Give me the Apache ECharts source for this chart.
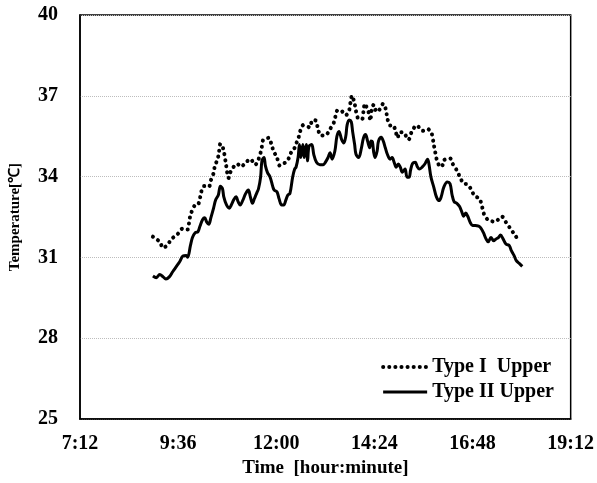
<!DOCTYPE html>
<html>
<head>
<meta charset="utf-8">
<script src="https://cdn.jsdelivr.net/npm/echarts@6/dist/echarts.min.js"></script>
<style>
  html, body { margin: 0; padding: 0; background: #fff; }
  #chart { width: 597px; height: 483px; }
</style>
</head>
<body>
<div id="chart"></div>
<script>
// Upper surface temperature over the day for two panel types
const seriesNames = ['Type I  Upper', 'Type II Upper'];

const typeITimes = ['8:59','9:09','9:14','9:20','9:27','9:35','9:43','9:50','9:52','9:54','10:00','10:05','10:08','10:09','10:14','10:21','10:24','10:28','10:30','10:34','10:36','10:38','10:42','10:46','10:48','10:50','10:52','10:57','11:03','11:08','11:14','11:22','11:29','11:34','11:37','11:39','11:41','11:49','11:53','11:56','12:01','12:05','12:08','12:14','12:19','12:23','12:27','12:29','12:32','12:35','12:40','12:49','12:53','12:58','13:01','13:05','13:12','13:19','13:25','13:29','13:34','13:42','13:47','13:49','13:51','13:55','13:57','14:01','14:06','14:08','14:10','14:13','14:16','14:18','14:20','14:23','14:27','14:31','14:37','14:41','14:43','14:47','14:51','14:55','14:58','15:01','15:06','15:14','15:19','15:26','15:35','15:42','15:48','15:51','15:53','15:55','15:59','16:03','16:06','16:15','16:19','16:25','16:30','16:35','16:40','16:46','16:51','16:58','17:02','17:05','17:11','17:21','17:31','17:37','17:43','17:50','17:56'];
const typeITemps = [31.77,31.58,31.35,31.46,31.70,31.86,32.08,32.04,32.28,32.56,32.92,32.95,33.19,33.35,33.65,33.62,33.86,34.13,34.41,34.65,34.92,35.22,35.05,34.50,34.15,33.95,34.13,34.35,34.47,34.36,34.49,34.65,34.44,34.65,34.89,35.13,35.37,35.44,35.19,34.95,34.71,34.41,34.47,34.53,34.71,34.97,35.07,35.22,35.37,35.68,35.92,35.83,36.10,36.08,35.80,35.53,35.53,35.77,36.04,36.44,36.47,36.28,36.47,36.77,37.01,36.71,36.43,36.14,36.14,36.43,36.71,36.55,36.35,36.08,36.47,36.67,36.41,36.47,36.71,36.47,36.16,35.90,35.92,35.70,35.44,35.65,35.65,35.37,35.68,35.90,35.70,35.77,35.60,35.20,34.95,34.68,34.41,34.37,34.61,34.68,34.47,34.23,33.96,33.74,33.72,33.53,33.28,33.19,32.88,32.60,32.39,32.33,32.52,32.31,32.09,31.84,31.61];

const typeIITimes = ['8:59','9:04','9:09','9:14','9:18','9:23','9:28','9:33','9:38','9:43','9:48','9:50','9:54','9:57','10:01','10:05','10:08','10:12','10:15','10:18','10:21','10:24','10:28','10:31','10:35','10:38','10:41','10:43','10:47','10:51','10:54','10:58','11:01','11:04','11:07','11:11','11:15','11:19','11:22','11:25','11:28','11:31','11:34','11:37','11:39','11:42','11:44','11:47','11:51','11:55','11:57','12:01','12:04','12:08','12:11','12:14','12:17','12:20','12:24','12:27','12:29','12:32','12:34','12:36','12:39','12:41','12:44','12:46','12:48','12:52','12:55','12:59','13:04','13:09','13:12','13:16','13:19','13:22','13:26','13:29','13:32','13:36','13:39','13:42','13:44','13:47','13:50','13:52','13:55','13:57','14:01','14:05','14:08','14:11','14:14','14:17','14:19','14:21','14:23','14:25','14:28','14:30','14:34','14:37','14:40','14:43','14:47','14:50','14:53','14:56','14:59','15:02','15:05','15:09','15:12','15:15','15:17','15:20','15:24','15:27','15:30','15:34','15:38','15:42','15:44','15:47','15:51','15:55','15:59','16:02','16:06','16:11','16:15','16:18','16:21','16:25','16:29','16:32','16:35','16:38','16:41','16:45','16:48','16:52','16:57','17:00','17:04','17:08','17:11','17:15','17:19','17:22','17:26','17:29','17:33','17:37','17:42','17:45','17:49','17:52','17:57','18:01'];
const typeIITemps = [30.31,30.25,30.37,30.28,30.20,30.28,30.47,30.65,30.83,31.05,31.07,31.01,31.44,31.74,31.92,31.95,32.16,32.41,32.47,32.31,32.23,32.47,32.83,33.13,33.32,33.64,33.56,33.25,32.95,32.83,32.95,33.16,33.25,33.07,32.95,33.13,33.37,33.50,33.25,33.01,33.19,33.37,33.56,33.98,34.59,34.71,34.41,34.16,33.98,33.62,33.50,33.44,33.19,32.95,32.95,33.13,33.32,33.37,33.98,34.28,34.35,34.71,35.19,34.71,35.19,34.71,35.19,34.59,35.13,35.19,34.83,34.53,34.44,34.44,34.53,34.71,34.89,34.65,34.95,35.50,35.68,35.37,35.25,35.50,35.92,36.10,36.04,35.68,35.19,34.83,34.71,35.07,35.44,35.56,35.32,35.07,35.32,35.30,34.90,34.71,34.95,35.32,35.46,35.32,35.07,34.83,34.65,34.71,34.53,34.35,34.47,34.35,34.16,34.28,33.98,33.98,34.23,34.49,34.53,34.37,34.28,34.35,34.47,34.65,34.47,33.98,33.62,33.25,33.11,33.25,33.62,33.80,33.74,33.32,33.07,33.01,32.89,32.71,32.53,32.65,32.53,32.28,32.19,32.19,32.16,32.10,31.92,31.68,31.58,31.74,31.62,31.68,31.74,31.83,31.68,31.50,31.44,31.25,31.07,30.89,30.77,30.67];

// Axis ranges (time in minutes after midnight)
const xMin = '7:12', xMax = '19:12', xStep = 144;
const yMin = 25, yMax = 40, yStep = 3;

function toMinutes(t) {
  const [h, m] = t.split(':').map(Number);
  return h * 60 + m;
}
function fmtTime(v) {
  const h = Math.floor(v / 60), m = Math.round(v % 60);
  return h + ':' + String(m).padStart(2, '0');
}
function pairs(times, temps) {
  return times.map((t, i) => [toMinutes(t), temps[i]]);
}

const serif = '"Liberation Serif", "Times New Roman", serif';
const dottedStyle = { color: '#000', width: 4, type: [0.1, 6], cap: 'round' };
const solidStyle = { color: '#000', width: 3 };
const chart = echarts.init(document.getElementById('chart'), null, { renderer: 'canvas' });

chart.setOption({
  animation: false,
  backgroundColor: '#ffffff',
  grid: {
    left: 78, right: 24, top: 15, bottom: 60,
    show: true, borderColor: '#000', borderWidth: 1.5, backgroundColor: 'transparent'
  },
  legend: {
    orient: 'vertical',
    right: 38, top: 352,
    itemWidth: 44, itemHeight: 14, itemGap: 5,
    itemStyle: { opacity: 0 },
    textStyle: { fontFamily: serif, fontWeight: 'bold', fontSize: 20, color: '#000' },
    data: [
      { name: seriesNames[0], lineStyle: dottedStyle },
      { name: seriesNames[1], lineStyle: solidStyle }
    ]
  },
  xAxis: {
    type: 'value',
    min: toMinutes(xMin), max: toMinutes(xMax), interval: xStep,
    name: 'Time  [hour:minute]',
    nameLocation: 'middle', nameGap: 37,
    nameTextStyle: { fontFamily: serif, fontWeight: 'bold', fontSize: 19, color: '#000' },
    axisLine: { show: true, lineStyle: { color: '#000', width: 1.5 } },
    axisTick: { show: false },
    splitLine: { show: false },
    axisLabel: {
      formatter: fmtTime, margin: 15,
      fontFamily: serif, fontWeight: 'bold', fontSize: 20, color: '#000'
    }
  },
  yAxis: {
    type: 'value',
    min: yMin, max: yMax, interval: yStep,
    name: 'Temperature[℃]',
    nameLocation: 'middle', nameGap: 57,
    nameTextStyle: { fontFamily: serif, fontWeight: 'bold', fontSize: 15, color: '#000' },
    axisLine: { show: true, lineStyle: { color: '#000', width: 1.5 } },
    axisTick: { show: false },
    splitLine: { show: true, lineStyle: { color: '#bdbdbd', type: 'dotted', width: 1 } },
    axisLabel: {
      margin: 22,
      fontFamily: serif, fontWeight: 'bold', fontSize: 20, color: '#000'
    }
  },
  series: [
    {
      name: seriesNames[0],
      type: 'line',
      data: pairs(typeITimes, typeITemps),
      symbol: 'none',
      smooth: 0.3,
      lineStyle: dottedStyle,
      itemStyle: { color: '#000' }
    },
    {
      name: seriesNames[1],
      type: 'line',
      data: pairs(typeIITimes, typeIITemps),
      symbol: 'none',
      smooth: 0.35,
      lineStyle: solidStyle,
      itemStyle: { color: '#000' }
    }
  ]
});
</script>
</body>
</html>
